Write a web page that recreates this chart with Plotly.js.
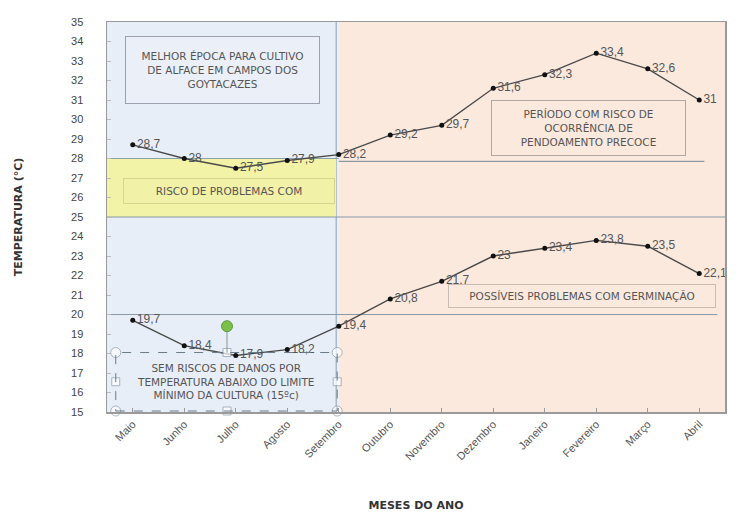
<!DOCTYPE html>
<html>
<head>
<meta charset="utf-8">
<script src="https://cdn.plot.ly/plotly-3.0.1.min.js"></script>
<style>
  html, body { margin: 0; padding: 0; background: #ffffff; }
  #chart { width: 739px; height: 513px; }
</style>
</head>
<body>
<div id="chart"></div>
<script>
// Monthly temperature series (°C), May through April
const months = ["Maio", "Junho", "Julho", "Agosto", "Setembro", "Outubro",
  "Novembro", "Dezembro", "Janeiro", "Fevereiro", "Março", "Abril"];
const tempMax = [28.7, 28, 27.5, 27.9, 28.2, 29.2, 29.7, 31.6, 32.3, 33.4, 32.6, 31];
const tempMin = [19.7, 18.4, 17.9, 18.2, 19.4, 20.8, 21.7, 23, 23.4, 23.8, 23.5, 22.1];
const maxLabels = ["28,7", "28", "27,5", "27,9", "28,2", "29,2", "29,7", "31,6", "32,3", "33,4", "32,6", "31"];
const minLabels = ["19,7", "18,4", "17,9", "18,2", "19,4", "20,8", "21,7", "23", "23,4", "23,8", "23,5", "22,1"];
const yTicks = [15, 16, 17, 18, 19, 20, 21, 22, 23, 24, 25, 26, 27, 28, 29, 30, 31, 32, 33, 34, 35];

const lineStyle = { color: "#4a4a4a", width: 1.4 };
const markerStyle = { color: "#111111", size: 5 };
const labelFont = { family: "Liberation Sans, Arial, sans-serif", size: 12, color: "#555555" };

const traces = [
  {
    x: months, y: tempMax, text: maxLabels, type: "scatter", mode: "lines+markers+text",
    textposition: "middle right", textfont: labelFont,
    line: lineStyle, marker: markerStyle, hoverinfo: "x+y", cliponaxis: false
  },
  {
    x: months, y: tempMin, text: minLabels, type: "scatter", mode: "lines+markers+text",
    textposition: "middle right", textfont: labelFont,
    line: lineStyle, marker: markerStyle, hoverinfo: "x+y", cliponaxis: false
  }
];

const boxFont = { family: "DejaVu Sans, sans-serif", size: 10.5, color: "#555555" };

const shapes = [
  // seasonal background bands
  { type: "rect", xref: "x", yref: "paper", x0: -0.5, x1: 4, y0: 0, y1: 1,
    fillcolor: "#e8eef8", line: { width: 0 }, layer: "below" },
  { type: "rect", xref: "x", yref: "paper", x0: 4, x1: 11.5, y0: 0, y1: 1,
    fillcolor: "#fbe9dd", line: { width: 0 }, layer: "below" },
  { type: "line", xref: "x", yref: "paper", x0: 3.95, x1: 3.95, y0: 0, y1: 1,
    line: { color: "#8aa0b8", width: 1 }, layer: "below" },
  // yellow risk band
  { type: "rect", xref: "x", yref: "y", x0: -0.5, x1: 3.95, y0: 25, y1: 28,
    fillcolor: "#f3f3a8", line: { width: 0 }, layer: "below" },
  // reference levels
  { type: "line", xref: "x", yref: "y", x0: -0.5, x1: 4, y0: 28, y1: 28,
    line: { color: "#8aa3a8", width: 1.2 }, layer: "below" },
  { type: "line", xref: "x", yref: "y", x0: 4, x1: 11.1, y0: 27.85, y1: 27.85,
    line: { color: "#8a9aa0", width: 1.2 }, layer: "below" },
  { type: "line", xref: "x", yref: "y", x0: -0.5, x1: 11.5, y0: 25, y1: 25,
    line: { color: "#8a9aa8", width: 1.2 }, layer: "below" },
  { type: "line", xref: "x", yref: "y", x0: -0.5, x1: 11.35, y0: 20, y1: 20,
    line: { color: "#8a9aa8", width: 1.2 }, layer: "below" },
  // selected text box frame (dashed) with handles
  { type: "rect", xref: "x", yref: "y", x0: -0.33, x1: 3.97, y0: 15.05, y1: 18.05,
    fillcolor: "rgba(0,0,0,0)", line: { color: "#6a7a8a", width: 1, dash: "dash" } },
  { type: "line", xref: "x", yref: "y", x0: 1.83, x1: 1.83, y0: 18.05, y1: 19.1,
    line: { color: "#8a9a8a", width: 1 } }
];

// selection handles on the dashed frame
const handleXs = [-0.33, 1.83, 3.97];
const handleYs = [15.05, 16.55, 18.05];
const handleTrace = { x: [], y: [], type: "scatter", mode: "markers", hoverinfo: "skip",
  xaxis: "x2", yaxis: "y", marker: { size: [], symbol: [], color: "#ffffff",
  line: { color: "#8a9aa8", width: 1 } }, cliponaxis: false };
handleXs.forEach((hx, i) => handleYs.forEach((hy, j) => {
  if (i === 1 && j === 1) return;
  const side = (i === 1 || j === 1);
  handleTrace.x.push(hx); handleTrace.y.push(hy);
  handleTrace.marker.size.push(side ? 8 : 10);
  handleTrace.marker.symbol.push(side ? "square" : "circle");
}));
traces.push(handleTrace);
// rotation handle
traces.push({ x: [1.83], y: [19.4], type: "scatter", mode: "markers", hoverinfo: "skip",
  xaxis: "x2", yaxis: "y", marker: { size: 11, color: "#7cbf4a", line: { color: "#5a9a3a", width: 1 } },
  cliponaxis: false });

const annotations = [
  { xref: "x", yref: "y", x: 1.74, y: 32.53, text: "MELHOR ÉPOCA PARA CULTIVO<br>DE ALFACE EM CAMPOS DOS<br>GOYTACAZES",
    showarrow: false, font: boxFont, bgcolor: "#ebeff8", bordercolor: "#9aa2b0", borderwidth: 1,
    width: 191, height: 64, align: "center" },
  { xref: "x", yref: "y", x: 1.87, y: 26.31, text: "RISCO DE PROBLEMAS COM",
    showarrow: false, font: boxFont, bgcolor: "#f1f1a8", bordercolor: "#d6d690", borderwidth: 1,
    width: 208, height: 22, align: "center" },
  { xref: "x", yref: "y", x: 8.85, y: 29.55, text: "PERÍODO COM RISCO DE<br>OCORRÊNCIA DE<br>PENDOAMENTO PRECOCE",
    showarrow: false, font: boxFont, bgcolor: "#fbe9dd", bordercolor: "#b0a8a0", borderwidth: 1,
    width: 191, height: 52, align: "center" },
  { xref: "x", yref: "y", x: 8.72, y: 20.96, text: "POSSÍVEIS PROBLEMAS COM GERMINAÇÃO",
    showarrow: false, font: boxFont, bgcolor: "#fbe9dd", bordercolor: "#c8bcb4", borderwidth: 1,
    width: 264, height: 20, align: "center" },
  { xref: "x", yref: "y", x: 1.81, y: 16.54, text: "SEM RISCOS DE DANOS POR<br>TEMPERATURA ABAIXO DO LIMITE<br>MÍNIMO DA CULTURA (15ºc)",
    showarrow: false, font: boxFont, align: "center" }
];

const layout = {
  width: 739, height: 513,
  margin: { l: 107, r: 14, t: 22, b: 101 },
  paper_bgcolor: "#ffffff", plot_bgcolor: "#ffffff",
  showlegend: false,
  font: { family: "Liberation Sans, Arial, sans-serif", color: "#444444" },
  xaxis: {
    type: "category", range: [-0.5, 11.5], tickangle: -45,
    tickfont: { size: 11, color: "#555555" },
    showline: true, linecolor: "#9a9a9a", linewidth: 1.5, mirror: true,
    ticks: "inside", ticklen: 4, tickcolor: "#9a9a9a", showgrid: false, zeroline: false,
    title: { text: "MESES DO ANO", font: { family: "DejaVu Sans, sans-serif", size: 11, color: "#333333", weight: "bold" }, standoff: 40 }
  },
  xaxis2: { overlaying: "x", range: [-0.5, 11.5], visible: false, fixedrange: true },
  yaxis: {
    range: [15, 35], tickvals: yTicks, ticktext: yTicks.map(String),
    tickfont: { size: 11, color: "#444444" },
    showline: true, linecolor: "#9a9a9a", linewidth: 1.5, mirror: true,
    ticks: "inside", ticklen: 4, tickcolor: "#bbbbbb", ticklabelstandoff: 20,
    showgrid: false, zeroline: false,
    title: { text: "TEMPERATURA (°C)", font: { family: "DejaVu Sans, sans-serif", size: 11, color: "#333333", weight: "bold" }, standoff: 46 }
  },
  shapes: shapes,
  annotations: annotations
};

Plotly.newPlot("chart", traces, layout, { displayModeBar: false, staticPlot: true });
</script>
</body>
</html>
